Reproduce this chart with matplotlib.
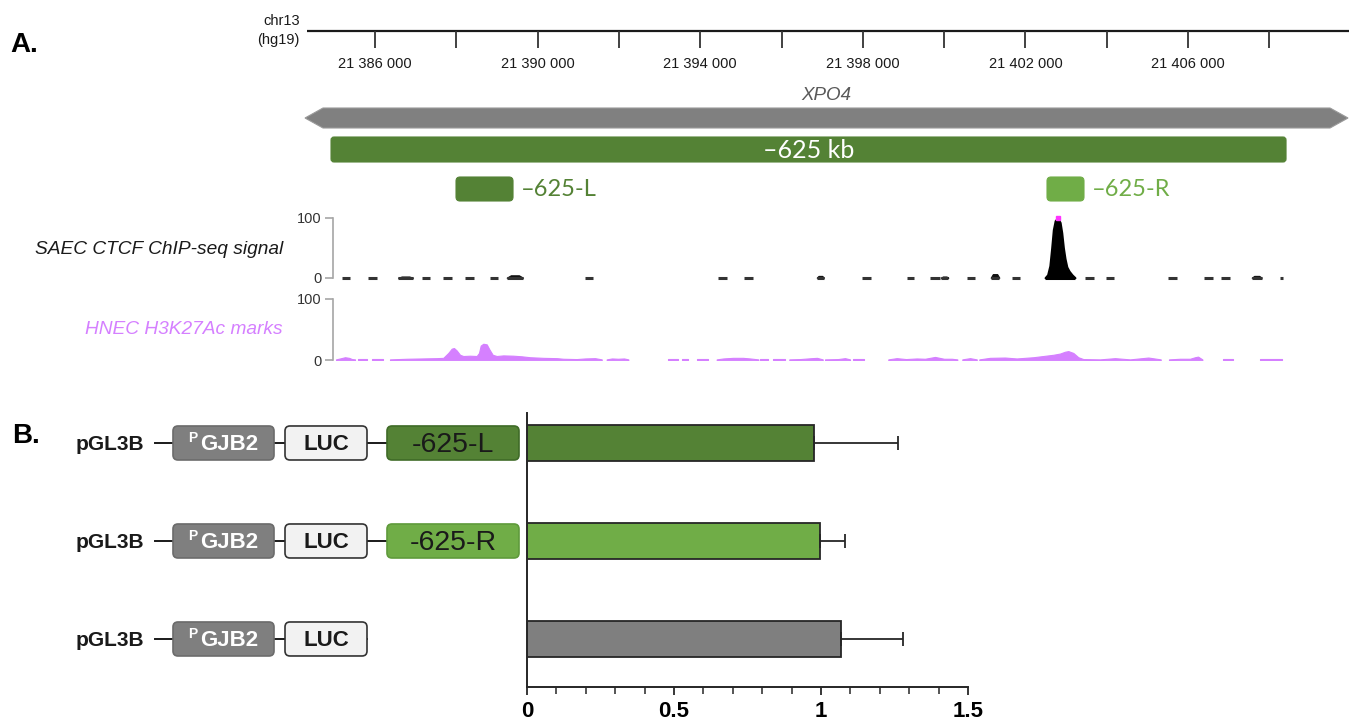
import numpy as np
import matplotlib.pyplot as plt
from matplotlib.patches import FancyBboxPatch, Polygon

plt.rcParams['font.family'] = ['Liberation Sans', 'DejaVu Sans']

W, H = 1349, 727
fig = plt.figure(figsize=(W / 100, H / 100), dpi=100)

# ---------------------------------------
# DATA  (chr13 positions are bp offsets from REF)
REF = 21386000

ruler_ticks = np.arange(0, 22001, 2000)
ruler_labels = np.arange(0, 20001, 4000)
ruler_span = (-1673, 23960)

gene_name = 'XPO4'
gene_span = (-1722, 23936)
region_625 = (-1082, 22411)
region_L = (1993, 3395)
region_R = (16531, 17441)

# SAEC CTCF: covered stretches of the baseline (+ small bumps)
ctcf_start = [-819, -172, 566, 1149, 1673, 2214, 2829, 3240, 5166, 8438, 9077, 10866, 11973,
              13080, 13653, 13924, 14556, 15146, 15670, 17466, 17983, 19508, 20393, 20812, 21567, 22263]
ctcf_end = [-615, 42, 935, 1353, 1887, 2435, 3026, 3641, 5363, 8652, 9291, 11045, 12194,
            13259, 13899, 14103, 14760, 15358, 15867, 17687, 18179, 19729, 20607, 21033, 21813, 22337]
ctcf_bump = [0, 0, 2, 0, 0, 0, 0, 4, 0, 0, 0, 3, 0, 0, 0, 2, 0, 6, 0, 0, 0, 0, 0, 0, 3, 0]

# CTCF peak inside -625-R
peak_pos = [16482, 16545, 16600, 16645, 16685, 16730, 16794, 16855, 16895, 16935, 16975, 17020, 17075, 17145, 17220]
peak_val = [0, 5, 20, 50, 80, 95, 100, 92, 75, 50, 32, 18, 11, 5, 0]

# HNEC H3K27Ac, one list per covered stretch
h3_pos = [
    [-959, -861, -738, -640, -566, -492],
    [-411, -204],
    [-81, 189],
    [369, 780, 1149, 1518, 1680, 1803, 1887, 1943, 2010, 2091, 2172, 2337, 2502, 2558, 2600, 2664,
     2748, 2812, 2895, 2994, 3156, 3402, 3609, 3813, 4140, 4470, 4632, 4962, 5166, 5412, 5577],
    [5700, 5830, 5978, 6125, 6231],
    [7215, 7461],
    [7545, 7707],
    [7914, 8199],
    [8406, 8568, 8807, 9053, 9225, 9429],
    [9471, 9675],
    [9798, 10086],
    [10192, 10455, 10750, 10873, 11013],
    [11070, 11390, 11562, 11685],
    [11751, 12029],
    [12627, 12834, 13063, 13326, 13530, 13776, 13997, 14187, 14324],
    [14448, 14637, 14802],
    [14866, 15129, 15498, 15786, 16194, 16440, 16686, 16851, 16974, 17055, 17178, 17301, 17424,
     17835, 18204, 18573, 19023, 19328],
    [19532, 19803, 20049, 20172, 20246, 20352],
    [20868, 21114],
    [21771, 22320],
]
h3_val = [
    [1.5, 3, 5, 4, 2, 1.5],
    [1.5, 1.5],
    [1.5, 1.5],
    [1.5, 2.5, 3, 3.5, 4, 12, 19, 20, 16, 9, 7, 7.5, 7, 12, 24, 27,
     26, 18, 9, 7, 8, 7.5, 6.5, 5, 4, 3.5, 2.5, 2, 3, 3.5, 1.5],
    [1.5, 3, 2.5, 3, 1.5],
    [1.5, 1.5],
    [1.5, 1.5],
    [1.5, 1.5],
    [1.5, 3, 4, 4, 3, 1.5],
    [1.5, 1.5],
    [1.5, 1.5],
    [1.5, 2, 3.5, 4, 1.5],
    [1.5, 2, 3.5, 1.5],
    [1.5, 1.5],
    [1.5, 3.5, 2, 3, 2.5, 5.5, 2.5, 2.5, 1.5],
    [1.5, 3.5, 1.5],
    [1.5, 4, 4.5, 3, 5, 7, 9, 11, 14, 15, 12, 5, 2, 1.5, 3.5, 1.5, 4.5, 1.5],
    [1.5, 2.5, 2.5, 5, 6, 1.5],
    [1.5, 1.5],
    [1.5, 1.5],
]

# luciferase assay (panel B)
construct_names = ['-625-L', '-625-R', '']
rel_activity = [0.976, 0.998, 1.067]
rel_err = [0.285, 0.085, 0.211]
bar_colors = ['#548235', '#70ad47', '#7f7f7f']

# ---------------------------------------
DARK_GREEN, LIGHT_GREEN, MAGENTA = '#548235', '#70ad47', '#d580ff'
XLIM = (-9225, 23960)           # genomic x range across the full figure width
BPPX = (XLIM[1] - XLIM[0]) / W


def rect(x0, y0, x1, y1):
    return [x0 / W, 1 - y1 / H, (x1 - x0) / W, (y1 - y0) / H]


def gbox(ax, x0, x1, y0, y1, color, r):
    ax.add_patch(FancyBboxPatch((x0, y0), x1 - x0, y1 - y0,
                                boxstyle=f'round,pad=0,rounding_size={r * BPPX}',
                                mutation_aspect=1 / BPPX, fc=color, ec=color, lw=0.8))


# panel A, genomic x / pixel y
ax_a = fig.add_axes([0, 0, 1, 1])
ax_a.set_xlim(XLIM)
ax_a.set_ylim(H, 0)
ax_a.axis('off')

ax_a.hlines(31, *ruler_span, color='#1a1a1a', lw=1.6)
ax_a.vlines(ruler_ticks, 31, 48, color='#333333', lw=1.3)
for p in ruler_labels:
    ax_a.text(p, 64, f'{REF + p:,}'.replace(',', ' '), ha='center', va='center',
              fontsize=10.5, color='#1a1a1a')

head = 18 * BPPX
g0, g1 = gene_span
ax_a.add_patch(Polygon([(g0, 118), (g0 + head, 108), (g1 - head, 108), (g1, 118),
                        (g1 - head, 128), (g0 + head, 128)], closed=True,
                       fc='#808080', ec='#9a9a9a', lw=0.8))
ax_a.text((g0 + g1) / 2, 95, gene_name, ha='center', va='center', style='italic',
          fontsize=13.5, color='#595959')

gbox(ax_a, region_625[0], region_625[1], 137, 162, DARK_GREEN, 3)
ax_a.text(sum(region_625) / 2, 150, '\u2013625 kb', ha='center', va='center',
          fontsize=18, color='white', family='Lato')

for reg, col, lab in [(region_L, DARK_GREEN, '\u2013625-L'), (region_R, LIGHT_GREEN, '\u2013625-R')]:
    gbox(ax_a, reg[0], reg[1], 177, 201, col, 4)
    ax_a.annotate(lab, xy=(reg[1], 189), xytext=(6, 0), textcoords='offset points',
                  ha='left', va='center', fontsize=17, color=col, family='Lato')


def track(y0, y1):
    ax = fig.add_axes(rect(0, y0, W, y1))
    ax.set_xlim(XLIM)
    ax.set_ylim(0, 100)
    ax.patch.set_visible(False)
    for s in ['top', 'right', 'bottom']:
        ax.spines[s].set_visible(False)
    ax.spines['left'].set_position(('data', -1033))
    ax.spines['left'].set_bounds(0, 100)
    ax.spines['left'].set_color('#a6a6a6')
    ax.spines['left'].set_linewidth(1.2)
    ax.set_xticks([])
    ax.set_yticks([0, 100])
    ax.tick_params(axis='y', length=6, width=1.2, color='#a6a6a6', labelcolor='#333333',
                   labelsize=10.5, pad=2)
    return ax


ax_c = track(217.7, 277.7)
ax_c.hlines(np.zeros(len(ctcf_start)), ctcf_start, ctcf_end, color='#333333', lw=2.2, clip_on=False)
for s, e, b in zip(ctcf_start, ctcf_end, ctcf_bump):
    if b:
        w = (e - s) * 0.25
        ax_c.fill_between([s, s + w, e - w, e], 0, [0, b, b, 0], color='#111111', lw=0.8)
ax_c.hlines(0, peak_pos[0], peak_pos[-1], color='black', lw=2.2, clip_on=False)
ax_c.fill_between(peak_pos, 0, peak_val, color='black', ec='black', lw=1.4)
top = int(np.argmax(peak_val))
ax_c.plot(peak_pos[top], peak_val[top], 's', ms=2.2, color='#ff33ff', clip_on=False)

ax_h = track(299, 360.3)
for pos, val in zip(h3_pos, h3_val):
    ax_h.fill_between(pos, 0, val, color=MAGENTA, ec=MAGENTA, lw=0.8)

# panel B bars
ax_b = fig.add_axes(rect(527, 413, 968, 687))
ypos = [2, 1, 0]
ax_b.barh(ypos, rel_activity, height=0.36, color=bar_colors, edgecolor='#262626', lw=1.3,
          xerr=[np.zeros(3), rel_err],
          error_kw=dict(ecolor='#262626', elinewidth=1.3, capsize=5, capthick=1.3))
ax_b.set_xlim(0, 1.5)
ax_b.set_ylim(-0.49, 2.306)
ax_b.patch.set_visible(False)
for s in ['top', 'right']:
    ax_b.spines[s].set_visible(False)
for s in ['left', 'bottom']:
    ax_b.spines[s].set_color('#262626')
    ax_b.spines[s].set_linewidth(1.4)
ax_b.set_yticks([])
ax_b.set_xticks([0, 0.5, 1, 1.5])
ax_b.set_xticklabels(['0', '0.5', '1', '1.5'], fontsize=16, fontweight='bold')
ax_b.set_xticks(np.arange(0, 1.51, 0.1), minor=True)
ax_b.tick_params(axis='x', which='major', length=6, width=1.3, color='#262626', pad=4)
ax_b.tick_params(axis='x', which='minor', length=5, width=1.1, color='#262626')

# overlay in pixel coordinates: labels and construct diagrams
ax_o = fig.add_axes([0, 0, 1, 1])
ax_o.set_xlim(0, W)
ax_o.set_ylim(H, 0)
ax_o.axis('off')

ax_o.text(10, 45, 'A.', fontsize=20, fontweight='bold', va='center', ha='left')
ax_o.text(12, 436, 'B.', fontsize=20, fontweight='bold', va='center', ha='left')
ax_o.text(300, 21, 'chr13', fontsize=10.5, ha='right', va='center', color='#1a1a1a')
ax_o.text(300, 40, '(hg19)', fontsize=10.5, ha='right', va='center', color='#1a1a1a')
ax_o.text(283, 249, 'SAEC CTCF ChIP-seq signal', fontsize=13.8, style='italic',
          ha='right', va='center', color='#1a1a1a')
ax_o.text(283, 329, 'HNEC H3K27Ac marks', fontsize=13.8, style='italic',
          ha='right', va='center', color=MAGENTA)


def pbox(x0, x1, yc, fc, ec, h=34, r=5):
    ax_o.add_patch(FancyBboxPatch((x0, yc - h / 2), x1 - x0, h,
                                  boxstyle=f'round,pad=0,rounding_size={r}',
                                  fc=fc, ec=ec, lw=1.2, zorder=3))


for yv, name, col in zip(ypos, construct_names, bar_colors):
    yc = H - ax_b.transData.transform((0, yv))[1]
    ax_o.text(76, yc + 2, 'pGL3B', fontsize=15, fontweight='bold', ha='left', va='center',
              color='#1a1a1a')
    x_end = 387 if name else 367
    ax_o.plot([155, x_end], [yc, yc], color='#1a1a1a', lw=1.4, zorder=2)
    pbox(173, 274, yc, '#7f7f7f', '#6b6b6b')
    ax_o.text(193, yc - 5, 'P', fontsize=10, fontweight='bold', color='white',
              ha='center', va='center', zorder=4)
    ax_o.text(229, yc + 2, 'GJB2', fontsize=16, fontweight='bold', color='white',
              ha='center', va='center', zorder=4)
    pbox(285, 367, yc, '#f2f2f2', '#333333')
    ax_o.text(326, yc + 2, 'LUC', fontsize=16, fontweight='bold', color='#1a1a1a',
              ha='center', va='center', zorder=4)
    if name:
        pbox(387, 519, yc, col, '#3f6b27' if col == DARK_GREEN else '#5f9a3b')
        ax_o.text(453, yc + 2, name, fontsize=20.5, color='#1a1a1a',
                  ha='center', va='center', zorder=4)

plt.savefig('out.png', dpi=100)
